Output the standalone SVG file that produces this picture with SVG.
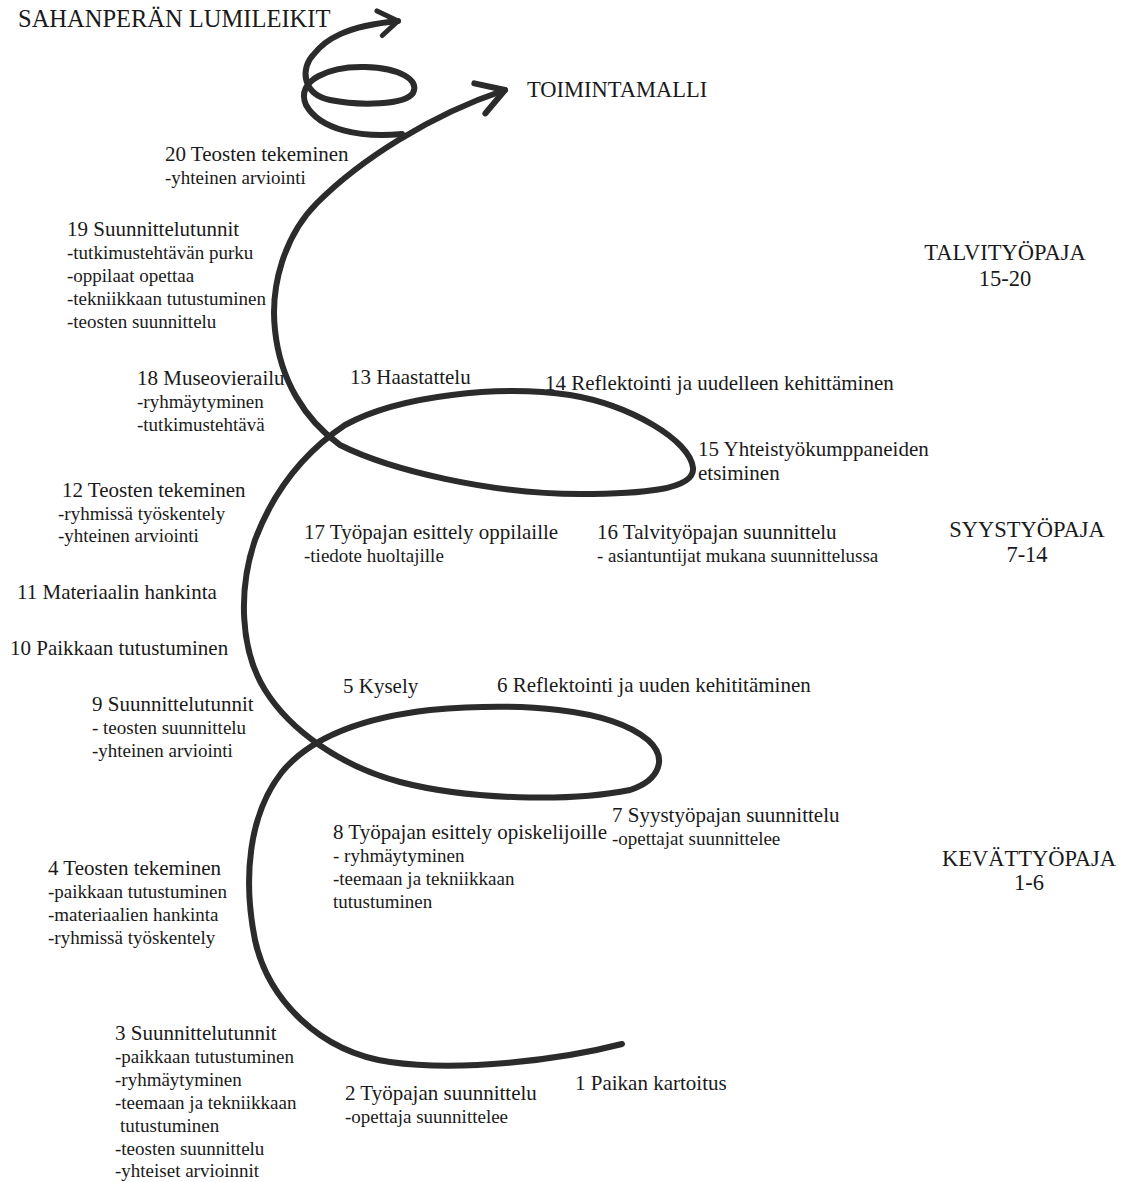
<svg xmlns="http://www.w3.org/2000/svg" width="1128" height="1182" viewBox="0 0 1128 1182">
<defs>
<style>
text{fill:#1a1a1a}
.h{font-size:21px}
.s{font-size:19px}
.cap{font-size:22.5px;text-anchor:middle}
.title{font-size:24.5px}
.line{fill:none;stroke:#2b2b2b;stroke-width:6;stroke-linecap:round;stroke-linejoin:round}
</style>
<marker id="arrowL" viewBox="-34 -22 40 44" markerWidth="40" markerHeight="44" refX="0" refY="0" orient="auto" markerUnits="userSpaceOnUse" overflow="visible">
<path d="M-27,-16 L0,0 L-26,16" fill="none" stroke="#2b2b2b" stroke-width="6" stroke-linecap="round" stroke-linejoin="round"/>
</marker>
<marker id="arrowS" viewBox="-30 -20 36 40" markerWidth="36" markerHeight="40" refX="0" refY="0" orient="auto" markerUnits="userSpaceOnUse" overflow="visible">
<path d="M-20,-12 L0,0 L-17,13" fill="none" stroke="#2b2b2b" stroke-width="5" stroke-linecap="round" stroke-linejoin="round"/>
</marker>
</defs>
<rect width="1128" height="1182" fill="#ffffff"/>

<g id="connectors">
<path id="spiral" class="line" marker-end="url(#arrowL)" d="M622,1044 C560,1060 460,1072 390,1062 C320,1052 268,1000 255,940 C243,880 248,815 282,772 C310,738 360,718 430,710 C520,702 610,708 648,740 C668,758 660,780 630,790 C570,802 470,800 400,782 C340,766 290,730 265,690 C240,650 238,590 255,540 C272,495 300,455 345,425 C400,395 500,385 570,395 C630,405 690,440 693,468 C695,490 640,494 580,494 C490,494 390,470 340,445 C305,420 280,380 275,330 C270,285 285,235 317,203 C360,160 430,115 505,90"/>
<path id="curl" class="line" stroke-width="5" marker-end="url(#arrowS)" d="M402,134 C360,138 320,130 306,105 C295,80 330,66 365,67 C400,68 420,80 413,93 C405,105 360,106 330,100 C302,94 300,68 314,54 C325,40 345,26 398,21"/>
</g>

<g font-family="Liberation Serif, Times New Roman, Tinos, Nimbus Roman, DejaVu Serif, serif">
<g id="outcome-sahanpera"><text class="title" x="18" y="27">SAHANPERÄN LUMILEIKIT</text></g>
<g id="outcome-toimintamalli"><text class="cap" style="text-anchor:start" x="527" y="97">TOIMINTAMALLI</text></g>

<g id="phase-talvi"><text class="cap" x="1005" y="260">TALVITYÖPAJA</text><text class="cap" x="1005" y="286">15-20</text></g>
<g id="phase-syys"><text class="cap" x="1027" y="537">SYYSTYÖPAJA</text><text class="cap" x="1027" y="562">7-14</text></g>
<g id="phase-kevat"><text class="cap" x="1029" y="866">KEVÄTTYÖPAJA</text><text class="cap" x="1029" y="890">1-6</text></g>

<g id="step20"><text class="h" x="165" y="161">20 Teosten tekeminen</text><text class="s" x="165" y="184">-yhteinen arviointi</text></g>
<g id="step19"><text class="h" x="67" y="236">19 Suunnittelutunnit</text><text class="s" x="67" y="259">-tutkimustehtävän purku</text><text class="s" x="67" y="282">-oppilaat opettaa</text><text class="s" x="67" y="305">-tekniikkaan tutustuminen</text><text class="s" x="67" y="328">-teosten suunnittelu</text></g>
<g id="step18"><text class="h" x="137" y="385">18 Museovierailu</text><text class="s" x="137" y="408">-ryhmäytyminen</text><text class="s" x="137" y="431">-tutkimustehtävä</text></g>
<g id="step13"><text class="h" x="350" y="384">13 Haastattelu</text></g>
<g id="step14"><text class="h" x="545" y="390">14 Reflektointi ja uudelleen kehittäminen</text></g>
<g id="step15"><text class="h" x="698" y="456">15 Yhteistyökumppaneiden</text><text class="h" x="698" y="480">etsiminen</text></g>
<g id="step17"><text class="h" x="304" y="539">17 Työpajan esittely oppilaille</text><text class="s" x="304" y="562">-tiedote huoltajille</text></g>
<g id="step16"><text class="h" x="597" y="539">16 Talvityöpajan suunnittelu</text><text class="s" x="597" y="562">- asiantuntijat mukana suunnittelussa</text></g>
<g id="step12"><text class="h" x="62" y="497">12 Teosten tekeminen</text><text class="s" x="58" y="520">-ryhmissä työskentely</text><text class="s" x="58" y="542">-yhteinen arviointi</text></g>
<g id="step11"><text class="h" x="17" y="599">11 Materiaalin hankinta</text></g>
<g id="step10"><text class="h" x="10" y="655">10 Paikkaan tutustuminen</text></g>
<g id="step9"><text class="h" x="92" y="711">9 Suunnittelutunnit</text><text class="s" x="92" y="734">- teosten suunnittelu</text><text class="s" x="92" y="757">-yhteinen arviointi</text></g>
<g id="step5"><text class="h" x="343" y="693">5 Kysely</text></g>
<g id="step6"><text class="h" x="497" y="692">6 Reflektointi ja uuden kehititäminen</text></g>
<g id="step7"><text class="h" x="612" y="822">7 Syystyöpajan suunnittelu</text><text class="s" x="612" y="845">-opettajat suunnittelee</text></g>
<g id="step8"><text class="h" x="333" y="839">8 Työpajan esittely opiskelijoille</text><text class="s" x="333" y="862">- ryhmäytyminen</text><text class="s" x="333" y="885">-teemaan ja tekniikkaan</text><text class="s" x="333" y="908">tutustuminen</text></g>
<g id="step4"><text class="h" x="48" y="875">4 Teosten tekeminen</text><text class="s" x="48" y="898">-paikkaan tutustuminen</text><text class="s" x="48" y="921">-materiaalien hankinta</text><text class="s" x="48" y="944">-ryhmissä työskentely</text></g>
<g id="step3"><text class="h" x="115" y="1040">3 Suunnittelutunnit</text><text class="s" x="115" y="1063">-paikkaan tutustuminen</text><text class="s" x="115" y="1086">-ryhmäytyminen</text><text class="s" x="115" y="1109">-teemaan ja tekniikkaan</text><text class="s" x="120" y="1132">tutustuminen</text><text class="s" x="115" y="1155">-teosten suunnittelu</text><text class="s" x="115" y="1177">-yhteiset arvioinnit</text></g>
<g id="step2"><text class="h" x="345" y="1100">2 Työpajan suunnittelu</text><text class="s" x="345" y="1123">-opettaja suunnittelee</text></g>
<g id="step1"><text class="h" x="575" y="1090">1 Paikan kartoitus</text></g>
</g>
</svg>
